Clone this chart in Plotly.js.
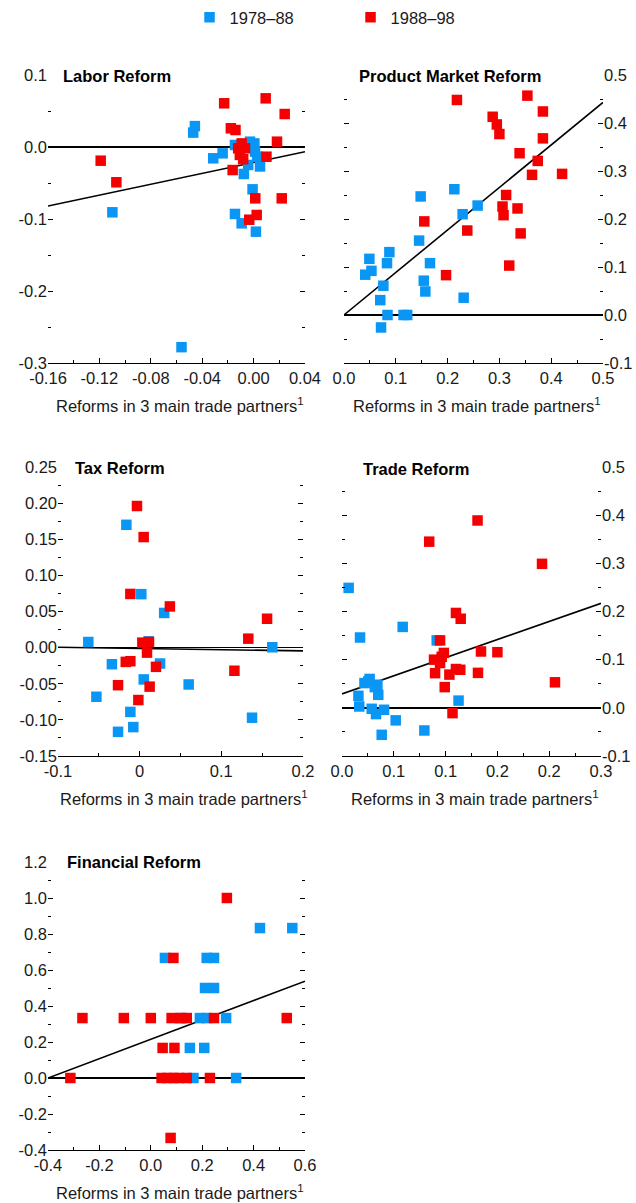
<!DOCTYPE html>
<html><head><meta charset="utf-8">
<script src="https://cdn.plot.ly/plotly-3.0.1.min.js"></script>
<style>html,body{margin:0;padding:0;background:#fff;}</style>
</head><body><div id="chart" style="width:636px;height:1203px;"></div>
<script>
// ---------- data ----------
const seriesNames = ["1978–88", "1988–98"];
const panelTitles = ["Labor Reform", "Product Market Reform", "Tax Reform", "Trade Reform", "Financial Reform"];
const xAxisTitle = "Reforms in 3 main trade partners<sup>1</sup>";

// Labor
const laborBlueX = [-0.0457, -0.047, -0.0314, -0.0241, -0.0145, -0.0028, 0.0006, 0.0011, 0.0029, 0.005, -0.0042, -0.0076, -0.0008, -0.0145, -0.0093, 0.0018, -0.1099, -0.0561];
const laborBlueY = [0.029, 0.020, -0.0157, -0.0088, 0.0028, 0.0074, 0.005, -0.0065, -0.0134, -0.027, -0.025, -0.0375, -0.0588, -0.093, -0.106, -0.1176, -0.0907, -0.278];
const laborRedX = [-0.0229, 0.0094, 0.0242, -0.0177, -0.0141, 0.0182, -0.0093, -0.0067, -0.012, -0.0107, -0.0081, 0.010, -0.0163, 0.0013, 0.0219, 0.0024, -0.0034, -0.119, -0.1068];
const laborRedY = [0.0607, 0.0676, 0.0458, 0.026, 0.0236, 0.0074, 0.005, -0.0018, -0.0018, -0.011, -0.017, -0.0135, -0.032, -0.0713, -0.0713, -0.0944, -0.101, -0.019, -0.049];
const laborFitX = [-0.16, 0.04];
const laborFitY = [-0.082, -0.0065];

// Product market
const pmBlueX = [0.041, 0.049, 0.053, 0.076, 0.070, 0.0715, 0.084, 0.083, 0.0876, 0.115, 0.122, 0.145, 0.148, 0.154, 0.157, 0.166, 0.213, 0.229, 0.258, 0.231];
const pmBlueY = [0.084, 0.117, 0.092, 0.061, 0.031, -0.026, 0.0, 0.108, 0.131, 0.0, 0.0, 0.155, 0.247, 0.0715, 0.049, 0.108, 0.262, 0.210, 0.228, 0.036];
const pmRedX = [0.218, 0.354, 0.384, 0.287, 0.295, 0.300, 0.384, 0.339, 0.374, 0.363, 0.421, 0.313, 0.306, 0.308, 0.335, 0.155, 0.238, 0.341, 0.319, 0.197];
const pmRedY = [0.448, 0.457, 0.424, 0.413, 0.397, 0.377, 0.368, 0.337, 0.321, 0.292, 0.294, 0.250, 0.226, 0.208, 0.222, 0.195, 0.176, 0.170, 0.103, 0.083];
const pmFitX = [0, 0.5];
const pmFitY = [0, 0.443];

// Tax
const taxBlueX = [-0.0163, 0.002, 0.030, 0.011, -0.0629, -0.034, 0.025, 0.005, -0.053, -0.0114, -0.0078, -0.0265, 0.060, 0.1376, 0.1624];
const taxBlueY = [0.170, 0.074, 0.048, 0.0087, 0.0078, -0.023, -0.022, -0.044, -0.068, -0.089, -0.110, -0.1165, -0.051, -0.097, 0.0005];
const taxRedX = [-0.0033, 0.0049, -0.0114, 0.037, 0.156, 0.133, 0.0033, 0.0114, 0.009, -0.017, -0.0114, 0.020, 0.116, -0.0265, 0.0122, -0.0016];
const taxRedY = [0.196, 0.153, 0.0743, 0.057, 0.040, 0.0124, 0.0069, 0.0078, -0.0069, -0.0197, -0.0188, -0.0266, -0.032, -0.052, -0.054, -0.0725];
const taxFitX = [-0.1, 0.2];
const taxFitY = [0.0005, -0.0045];

// Trade
const tradeBlueX = [0.0077, 0.0209, 0.0703, 0.1097, 0.026, 0.0305, 0.032, 0.038, 0.041, 0.042, 0.019, 0.020, 0.0344, 0.0394, 0.0487, 0.0622, 0.046, 0.0954, 0.135];
const tradeBlueY = [0.249, 0.146, 0.168, 0.140, 0.0514, 0.055, 0.060, 0.043, 0.048, 0.027, 0.025, 0.0028, -0.002, -0.013, -0.004, -0.026, -0.056, -0.047, 0.015];
const tradeRedX = [0.157, 0.101, 0.2317, 0.132, 0.1375, 0.1136, 0.118, 0.1066, 0.1136, 0.1155, 0.161, 0.180, 0.1078, 0.1244, 0.132, 0.137, 0.1575, 0.119, 0.128, 0.2467];
const tradeRedY = [0.389, 0.345, 0.299, 0.197, 0.185, 0.140, 0.114, 0.100, 0.093, 0.106, 0.117, 0.1155, 0.072, 0.069, 0.0806, 0.079, 0.0726, 0.043, -0.011, 0.053];
const tradeFitX = [0, 0.3];
const tradeFitY = [0.029, 0.217];

// Financial
const finBlueX = [0.4247, 0.5506, 0.055, 0.2175, 0.246, 0.211, 0.246, 0.12, 0.191, 0.217, 0.293, 0.152, 0.208, 0.166, 0.332];
const finBlueY = [0.833, 0.833, 0.667, 0.667, 0.667, 0.5, 0.5, 0.333, 0.333, 0.333, 0.333, 0.167, 0.167, 0, 0];
const finRedX = [0.296, 0.088, -0.266, -0.105, 0.0, 0.081, 0.114, 0.14, 0.246, 0.529, 0.046, 0.092, -0.313, 0.042, 0.065, 0.088, 0.11, 0.14, 0.23, 0.077];
const finRedY = [1.0, 0.667, 0.333, 0.333, 0.333, 0.333, 0.333, 0.333, 0.333, 0.333, 0.167, 0.167, 0, 0, 0, 0, 0, 0, 0, -0.333];
const finFitX = [-0.4, 0.6];
const finFitY = [0, 0.538];

// Tick values and labels
const laborXTicks = [-0.16, -0.12, -0.08, -0.04, 0, 0.04];
const laborXLabels = ["-0.16", "-0.12", "-0.08", "-0.04", "0.00", "0.04"];
const laborYTicks = [0.1, 0, -0.1, -0.2, -0.3];
const laborYLabels = ["0.1", "0.0", "-0.1", "-0.2", "-0.3"];
const pmXTicks = [0, 0.1, 0.2, 0.3, 0.4, 0.5];
const pmXLabels = ["0.0", "0.1", "0.2", "0.3", "0.4", "0.5"];
const pmYTicks = [0.5, 0.4, 0.3, 0.2, 0.1, 0, -0.1];
const pmYLabels = ["0.5", "0.4", "0.3", "0.2", "0.1", "0.0", "-0.1"];
const taxXTicks = [-0.1, 0, 0.1, 0.2];
const taxXLabels = ["-0.1", "0", "0.1", "0.2"];
const taxYTicks = [0.25, 0.2, 0.15, 0.1, 0.05, 0, -0.05, -0.1, -0.15];
const taxYLabels = ["0.25", "0.20", "0.15", "0.10", "0.05", "0.00", "-0.05", "-0.10", "-0.15"];
const tradeXTicks = [0, 0.06, 0.12, 0.18, 0.24, 0.3];
const tradeXLabels = ["0.0", "0.1", "0.1", "0.2", "0.2", "0.3"];
const tradeYTicks = [0.5, 0.4, 0.3, 0.2, 0.1, 0, -0.1];
const tradeYLabels = ["0.5", "0.4", "0.3", "0.2", "0.1", "0.0", "-0.1"];
const finXTicks = [-0.4, -0.2, 0, 0.2, 0.4, 0.6];
const finXLabels = ["-0.4", "-0.2", "0.0", "0.2", "0.4", "0.6"];
const finYTicks = [1.2, 1.0, 0.8, 0.6, 0.4, 0.2, 0, -0.2, -0.4];
const finYLabels = ["1.2", "1.0", "0.8", "0.6", "0.4", "0.2", "0.0", "-0.2", "-0.4"];

// ---------- styling / layout ----------
const W = 636, H = 1203;
const BLUE = "#0a96f5", RED = "#f50000";
const FONT = "Liberation Sans, Arial, sans-serif";
const TXT = "#1a1a1a";
const FS = 16.5;

const panels = [
  {bx: laborBlueX, by: laborBlueY, rx: laborRedX, ry: laborRedY, fx: laborFitX, fy: laborFitY,
   xt: laborXTicks, xl: laborXLabels, yt: laborYTicks, yl: laborYLabels, xr: [-0.16, 0.04], yr: [-0.3, 0.1], xm: 0.02, ym: 0.05,
   box: [48, 305, 75, 363], side: "left", title: [61, 76]},
  {bx: pmBlueX, by: pmBlueY, rx: pmRedX, ry: pmRedY, fx: pmFitX, fy: pmFitY,
   xt: pmXTicks, xl: pmXLabels, yt: pmYTicks, yl: pmYLabels, xr: [0, 0.5], yr: [-0.1, 0.5], xm: 0.05, ym: 0.05,
   box: [344, 603, 75, 363], side: "right", title: [357, 76]},
  {bx: taxBlueX, by: taxBlueY, rx: taxRedX, ry: taxRedY, fx: taxFitX, fy: taxFitY,
   xt: taxXTicks, xl: taxXLabels, yt: taxYTicks, yl: taxYLabels, xr: [-0.1, 0.2], yr: [-0.15, 0.25], xm: 0.05, ym: 0.025,
   box: [58, 303, 467, 756], side: "left", title: [73, 468]},
  {bx: tradeBlueX, by: tradeBlueY, rx: tradeRedX, ry: tradeRedY, fx: tradeFitX, fy: tradeFitY,
   xt: tradeXTicks, xl: tradeXLabels, yt: tradeYTicks, yl: tradeYLabels, xr: [0, 0.3], yr: [-0.1, 0.5], xm: 0.03, ym: 0.05,
   box: [342, 601, 467, 756], side: "right", title: [361, 469]},
  {bx: finBlueX, by: finBlueY, rx: finRedX, ry: finRedY, fx: finFitX, fy: finFitY,
   xt: finXTicks, xl: finXLabels, yt: finYTicks, yl: finYLabels, xr: [-0.4, 0.6], yr: [-0.4, 1.2], xm: 0.1, ym: 0.1,
   box: [48, 305, 862, 1150], side: "left", title: [65, 862]}
];

const traces = [];
const layout = {
  width: W, height: H,
  margin: {l: 0, r: 0, t: 0, b: 0},
  paper_bgcolor: "#fff", plot_bgcolor: "rgba(0,0,0,0)",
  font: {family: FONT, size: FS, color: TXT},
  showlegend: true,
  legend: {orientation: "h", x: 0.298, xanchor: "left", y: 1.0, yanchor: "top",
           font: {family: FONT, size: FS, color: TXT}, entrywidth: 116, itemwidth: 30,
           bgcolor: "rgba(0,0,0,0)", traceorder: "normal"},
  annotations: [],
  shapes: []
};

panels.forEach((p, i) => {
  const n = i + 1;
  const xa = "x" + (n === 1 ? "" : n), ya = "y" + (n === 1 ? "" : n);
  const xkey = "xaxis" + (n === 1 ? "" : n), ykey = "yaxis" + (n === 1 ? "" : n);
  const [l, r, t, b] = p.box;
  traces.push({type: "scatter", mode: "lines", x: p.fx, y: p.fy, xaxis: xa, yaxis: ya,
    line: {color: "#000", width: 1.6}, showlegend: false, hoverinfo: "skip", cliponaxis: false});
  traces.push({type: "scatter", mode: "markers", x: p.bx, y: p.by, xaxis: xa, yaxis: ya, name: seriesNames[0],
    marker: {symbol: "square", size: 10.5, color: BLUE}, showlegend: n === 1, legendgroup: "a", cliponaxis: false});
  traces.push({type: "scatter", mode: "markers", x: p.rx, y: p.ry, xaxis: xa, yaxis: ya, name: seriesNames[1],
    marker: {symbol: "square", size: 10.5, color: RED}, showlegend: n === 1, legendgroup: "b", cliponaxis: false});

  layout[xkey] = {
    domain: [l / W, r / W], anchor: ya, range: p.xr, fixedrange: true,
    showgrid: false, zeroline: false, showline: true, linecolor: "#000", linewidth: 1,
    ticks: "inside", ticklen: 5, tickwidth: 1, tickcolor: "#000",
    tickmode: "array", tickvals: p.xt, ticktext: p.xl,
    tickfont: {family: FONT, size: FS, color: TXT},
    minor: {ticks: "inside", ticklen: 3, tickwidth: 1, tickcolor: "#000", tickmode: "linear", tick0: p.xr[0], dtick: p.xm, showgrid: false}
  };
  layout[ykey] = {
    domain: [1 - b / H, 1 - t / H], anchor: xa, range: p.yr, fixedrange: true, side: p.side,
    showgrid: false, zeroline: true, zerolinecolor: "#000", zerolinewidth: 1.6,
    showline: false, mirror: "ticks",
    ticks: "inside", ticklen: 5, tickwidth: 1, tickcolor: "#000",
    tickmode: "array", tickvals: p.yt, ticktext: p.yl,
    tickfont: {family: FONT, size: FS, color: TXT},
    minor: {ticks: "inside", ticklen: 3, tickwidth: 1, tickcolor: "#000", tickmode: "linear", tick0: 0, dtick: p.ym, showgrid: false}
  };
  layout.annotations.push({
    xref: "paper", yref: "paper", x: p.title[0] / W, y: 1 - p.title[1] / H,
    xanchor: "left", yanchor: "middle", showarrow: false, text: "<b>" + panelTitles[i] + "</b>",
    font: {family: FONT, size: FS, color: "#000"}
  });
  layout.annotations.push({
    xref: "paper", yref: "paper", x: ((l + r) / 2 + 3) / W, y: 1 - (b + 42) / H,
    xanchor: "center", yanchor: "middle", showarrow: false, text: xAxisTitle,
    font: {family: FONT, size: FS, color: TXT}
  });
});

Plotly.newPlot("chart", traces, layout, {staticPlot: true, displayModeBar: false});
</script>
</body></html>
